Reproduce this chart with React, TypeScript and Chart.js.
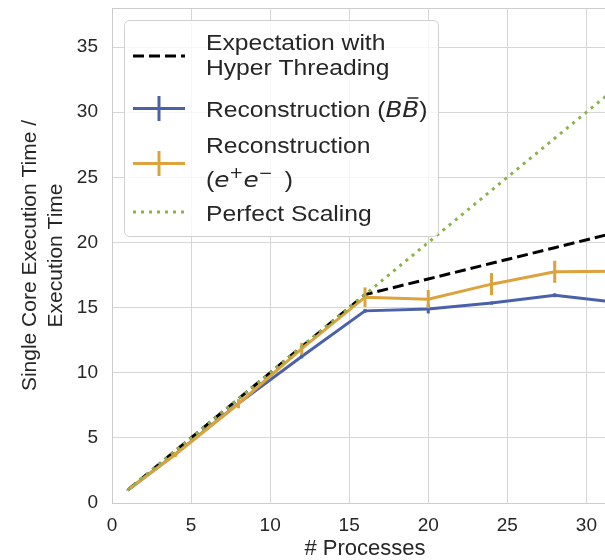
import React, { useEffect, useRef } from 'react';
import { Chart, registerables } from 'chart.js';

Chart.register(...registerables);

// ---- data ----
const processes = [1, 4, 8, 12, 16, 20, 24, 28, 32];
const expectationHT = [1, 4, 8, 12, 16, 17.2, 18.4, 19.6, 20.8];
const perfectScaling = [1, 4, 8, 12, 16, 20, 24, 28, 32];
const recoBB = [1, 3.75, 7.65, 11.25, 14.75, 14.9, 15.35, 15.95, 15.4];
const recoBBErr = [0.03, 0.08, 0.1, 0.15, 0.15, 0.35, 0.12, 0.15, 0.15];
const recoEE = [1, 3.72, 7.62, 11.85, 15.8, 15.65, 16.8, 17.75, 17.8];
const recoEEErr = [0.03, 0.2, 0.35, 0.45, 0.75, 0.7, 0.85, 0.85, 0.8];

const legendLabels = {
  expectation: ['Expectation with', 'Hyper Threading'],
  bb: 'Reconstruction (',
  ee: ['Reconstruction', '('],
  perfect: 'Perfect Scaling',
};
const xTitle = '# Processes';
const yTitle = ['Single Core Execution Time /', 'Execution Time'];

const COLORS = {
  expectation: '#000000',
  bb: '#4a61aa',
  ee: '#dca23c',
  perfect: '#8db24b',
  grid: '#d6d6d6',
  text: '#262626',
};
const FONT = "'Liberation Sans', Arial, sans-serif";
const MATH_FONT = "'DejaVu Sans', sans-serif";

const toPoints = (ys: number[]) => processes.map((x, i) => ({ x, y: ys[i] }));

const errorBarPlugin = {
  id: 'errorBars',
  afterDatasetDraw(chart: any, args: any) {
    const ds: any = chart.data.datasets[args.index];
    if (!ds.errors) return;
    const { ctx, chartArea } = chart;
    const xs = chart.scales.x;
    const ys = chart.scales.y;
    ctx.save();
    ctx.beginPath();
    ctx.rect(chartArea.left, chartArea.top, chartArea.right - chartArea.left, chartArea.bottom - chartArea.top);
    ctx.clip();
    ctx.strokeStyle = ds.borderColor;
    ctx.lineWidth = 3;
    ds.data.forEach((p: any, i: number) => {
      const e = ds.errors[i];
      const px = xs.getPixelForValue(p.x);
      ctx.beginPath();
      ctx.moveTo(px, ys.getPixelForValue(p.y - e));
      ctx.lineTo(px, ys.getPixelForValue(p.y + e));
      ctx.stroke();
    });
    ctx.restore();
  },
};

const framePlugin = {
  id: 'frame',
  beforeDatasetsDraw(chart: any) {
    const { ctx, chartArea } = chart;
    ctx.save();
    ctx.strokeStyle = '#cccccc';
    ctx.lineWidth = 1;
    ctx.beginPath();
    ctx.moveTo(chartArea.left, chartArea.top + 0.5);
    ctx.lineTo(chartArea.right, chartArea.top + 0.5);
    ctx.moveTo(chartArea.right - 0.5, chartArea.top);
    ctx.lineTo(chartArea.right - 0.5, chartArea.bottom);
    ctx.stroke();
    ctx.restore();
  },
};

const SX = 1.12;
function drawText(ctx: CanvasRenderingContext2D, text: string, x: number, y: number, font: string): number {
  ctx.save();
  ctx.font = font;
  ctx.translate(x, y);
  ctx.scale(SX, 1);
  ctx.fillText(text, 0, 0);
  const w = ctx.measureText(text).width * SX;
  ctx.restore();
  return w;
}

const legendPlugin = {
  id: 'insideLegend',
  afterDraw(chart: any) {
    const { ctx, chartArea } = chart;
    const L = chartArea.left;
    const T = chartArea.top;
    ctx.save();
    // box
    const bx = L + 12.5, by = T + 12.5, bw = 314, bh = 216, r = 5;
    ctx.beginPath();
    ctx.moveTo(bx + r, by);
    ctx.arcTo(bx + bw, by, bx + bw, by + bh, r);
    ctx.arcTo(bx + bw, by + bh, bx, by + bh, r);
    ctx.arcTo(bx, by + bh, bx, by, r);
    ctx.arcTo(bx, by, bx + bw, by, r);
    ctx.closePath();
    ctx.fillStyle = 'rgba(255,255,255,0.8)';
    ctx.fill();
    ctx.strokeStyle = '#d0d0d0';
    ctx.lineWidth = 1;
    ctx.stroke();

    const hx0 = L + 21, hx1 = L + 73, hxc = L + 47;
    const tx = L + 94;
    const handle = (y: number, color: string, dash: number[], err: boolean) => {
      ctx.save();
      ctx.strokeStyle = color;
      ctx.lineWidth = 3;
      ctx.lineCap = 'butt';
      ctx.setLineDash(dash);
      ctx.beginPath();
      ctx.moveTo(hx0, y);
      ctx.lineTo(hx1, y);
      ctx.stroke();
      if (err) {
        ctx.setLineDash([]);
        ctx.beginPath();
        ctx.moveTo(hxc, y - 12.5);
        ctx.lineTo(hxc, y + 12.5);
        ctx.stroke();
      }
      ctx.restore();
    };
    handle(T + 48, COLORS.expectation, [11, 5], false);
    handle(T + 100.5, COLORS.bb, [], true);
    handle(T + 155.5, COLORS.ee, [], true);
    handle(T + 204, COLORS.perfect, [3, 5], false);

    ctx.fillStyle = COLORS.text;
    ctx.textBaseline = 'alphabetic';
    ctx.textAlign = 'left';
    const reg = `22px ${FONT}`;
    const it = `italic 22px ${MATH_FONT}`;
    const itSmall = `15px ${MATH_FONT}`;

    drawText(ctx, legendLabels.expectation[0], tx, T + 42, reg);
    drawText(ctx, legendLabels.expectation[1], tx, T + 67, reg);

    // Reconstruction (B B-bar)
    let x = tx;
    const yb = T + 109;
    x += drawText(ctx, legendLabels.bb, x, yb, reg);
    x += drawText(ctx, 'B', x, yb, it);
    const wB = drawText(ctx, 'B', x, yb, it);
    ctx.save();
    ctx.strokeStyle = COLORS.text;
    ctx.lineWidth = 1.5;
    ctx.beginPath();
    ctx.moveTo(x + wB * 0.3, yb - 19);
    ctx.lineTo(x + wB * 0.95, yb - 19);
    ctx.stroke();
    ctx.restore();
    x += wB;
    drawText(ctx, ')', x, yb, reg);

    // Reconstruction (e+ e-)
    drawText(ctx, legendLabels.ee[0], tx, T + 145, reg);
    const ye = T + 179;
    x = tx;
    x += drawText(ctx, legendLabels.ee[1], x, ye, reg);
    x += drawText(ctx, 'e', x, ye, it);
    x += drawText(ctx, '+', x, ye - 9, itSmall);
    x += drawText(ctx, 'e', x, ye, it);
    x += drawText(ctx, '\u2212', x, ye - 9, itSmall);
    x += 12;
    drawText(ctx, ')', x, ye, reg);

    drawText(ctx, legendLabels.perfect, tx, T + 213, reg);
    ctx.restore();
  },
};

export default function App() {
  const ref = useRef<HTMLCanvasElement>(null);
  useEffect(() => {
    const canvas = ref.current;
    if (!canvas) return;
    const chart = new Chart(canvas, {
      type: 'line',
      data: {
        datasets: [
          {
            label: 'Expectation with Hyper Threading',
            data: toPoints(expectationHT),
            borderColor: COLORS.expectation,
            borderWidth: 3,
            borderDash: [11, 5],
            pointRadius: 0,
            order: 3,
          },
          {
            label: 'Reconstruction (BB)',
            data: toPoints(recoBB),
            borderColor: COLORS.bb,
            borderWidth: 3,
            pointRadius: 0,
            order: 2,
            errors: recoBBErr,
          } as any,
          {
            label: 'Reconstruction (e+e-)',
            data: toPoints(recoEE),
            borderColor: COLORS.ee,
            borderWidth: 3,
            pointRadius: 0,
            order: 1,
            errors: recoEEErr,
          } as any,
          {
            label: 'Perfect Scaling',
            data: toPoints(perfectScaling),
            borderColor: COLORS.perfect,
            borderWidth: 3,
            borderDash: [3, 5],
            pointRadius: 0,
            order: 0,
          },
        ],
      },
      options: {
        animation: false,
        responsive: false,
        devicePixelRatio: 1,
        layout: { autoPadding: false, padding: { top: 8, right: 12, left: 0, bottom: 0 } },
        plugins: { legend: { display: false }, tooltip: { enabled: false } },
        scales: {
          x: {
            type: 'linear',
            min: 0,
            max: 32,
            afterFit: (s: any) => { s.height = 57; s.paddingLeft = 0; s.paddingRight = 0; },
            ticks: { stepSize: 5, includeBounds: false, color: COLORS.text, padding: 11, font: { family: FONT, size: 19 } },
            grid: { color: COLORS.grid, drawTicks: false, lineWidth: 1 },
            border: { color: '#cccccc' },
            title: { display: true, text: xTitle, color: COLORS.text, font: { family: FONT, size: 22, lineHeight: 1.2 }, padding: { top: 0, bottom: -2 } },
          },
          y: {
            type: 'linear',
            min: 0,
            max: 38,
            afterFit: (s: any) => { s.width = 112; s.paddingTop = 0; s.paddingBottom = 0; },
            ticks: { stepSize: 5, includeBounds: false, color: COLORS.text, padding: 14, font: { family: FONT, size: 19 } },
            grid: { color: COLORS.grid, drawTicks: false, lineWidth: 1 },
            border: { color: '#cccccc' },
            title: { display: true, text: yTitle, color: COLORS.text, font: { family: FONT, size: 21, lineHeight: 1.2 }, padding: { top: 18, bottom: 0 } },
          },
        },
      } as any,
      plugins: [framePlugin, errorBarPlugin, legendPlugin],
    });
    return () => chart.destroy();
  }, []);
  return (
    <div style={{ position: 'fixed', left: 0, top: 0, width: 605, height: 560, overflow: 'hidden', background: '#ffffff' }}>
      <canvas ref={ref} width={630} height={560} style={{ width: 630, height: 560, display: 'block' }} />
    </div>
  );
}
